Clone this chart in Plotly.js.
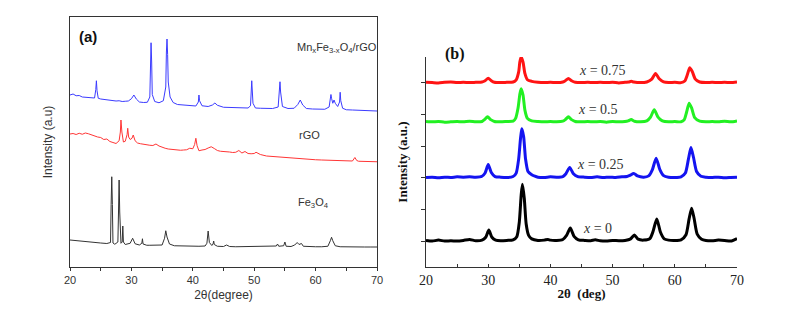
<!DOCTYPE html>
<html>
<head>
<meta charset="utf-8">
<script src="https://cdn.plot.ly/plotly-3.0.1.min.js"></script>
<style>
  html, body { margin: 0; padding: 0; background: #fff; }
  #chart { width: 789px; height: 327px; }
</style>
</head>
<body>
<div id="chart"></div>
<script>
// ---- panel (a): XRD patterns, arbitrary intensity scale 0..100 ----
const xMn = [20,20.5,21,21.5,22,22.5,23,23.5,24.0,24.2,24.3,24.4,24.6,25,25.5,26,26.5,27,27.5,28,28.5,29,29.5,30.0,30.4,30.8,31.3,32,32.6,33.0,33.1,33.2,33.3,33.4,33.8,34.5,35.2,35.6,35.7,35.8,35.9,36.0,36.3,36.8,37.5,38.5,39.5,40.5,40.9,41.0,41.1,41.5,42.5,43.2,43.6,44.0,45,46,47,48,49,49.4,49.6,49.8,50.2,51,52,53,53.9,54.1,54.2,54.3,54.6,55.5,56.5,57.1,57.5,57.9,58.5,59.5,60.5,61.5,62.2,62.4,62.5,62.6,62.8,63.0,63.2,63.6,63.9,64.0,64.1,64.4,65,66,67,68,69,70];
const yMn = [68.8,69.2,68.5,68.6,68.0,67.9,67.6,67.5,67.6,71,74.5,70.5,67.5,67.2,67.0,66.9,66.6,66.7,66.4,66.5,66.2,66.3,66.4,67.3,68.8,67.2,66.0,65.8,65.9,68,80,89.7,82,69,66.2,65.7,66.5,72,86,91.2,85,74,68,65.8,65.0,64.8,64.5,64.4,66,68.8,66.5,64.5,64.2,64.8,65.6,64.7,63.9,63.9,63.7,63.6,63.6,64.5,74.5,65.5,63.6,63.5,63.4,63.4,64,70,74.1,70,64.2,63.4,63.5,65,66.8,64.8,63.4,63.2,63.1,63.1,64,67,69,67.5,65.5,66.8,65.5,64.2,66,69.9,66.5,63.5,62.9,62.8,62.7,62.6,62.5,62.4];

const xRgo = [20,20.5,21,21.5,22,22.5,23,23.5,24,24.5,25,25.5,26,26.5,27,27.5,28,28.2,28.3,28.45,28.7,29.0,29.3,29.4,29.55,29.8,30.1,30.3,30.6,31,31.5,32,32.5,33,33.5,34,34.5,35,35.5,36,36.5,37,37.5,38,38.5,39,39.5,40,40.3,40.5,40.7,41,41.5,42,42.5,43,43.5,44,44.5,45,45.5,46,46.5,47,47.5,48,48.5,49,49.5,50,50.3,51,52,53,54,55,56,57,58,59,60,61,62,63,64,65,66,66.4,66.7,67,68,69,70];
const yRgo = [53.2,53.4,53.0,53.5,53.1,53.6,53.3,52.8,52.6,52.0,51.8,51.0,51.2,50.2,49.8,49.4,50.5,54,58.8,54,50,50.3,53,55.5,52,51,51.5,52.8,50.5,49.6,49.3,49.0,48.9,48.7,48.6,49.2,48.4,47.8,47.5,47.2,47.0,46.9,46.8,46.7,46.8,46.9,47.5,47.3,49,51.5,48.5,46.5,46.8,47.0,47.6,48.1,47.4,46.6,46.3,46.2,46.4,46.0,45.8,45.9,46.6,45.6,46.2,45.4,45.3,45.4,45.9,45.0,44.4,44.2,43.9,43.6,43.5,43.2,43.3,43.0,42.9,42.8,42.7,42.6,42.5,42.4,42.4,43.8,42.6,42.3,42.3,42.2,42.1];

const xFe = [20,21,22,23,24,25,26,26.6,26.7,26.8,26.9,27.0,27.3,27.8,27.9,28.0,28.1,28.3,28.5,28.6,28.7,29,29.8,30.2,30.6,31.3,31.7,31.8,31.9,32.5,33,34,35,35.4,35.6,35.8,36.2,37,38,39,40,41,42,42.3,42.5,42.7,43.1,43.3,43.4,43.5,44,45,45.5,46,47,48,49,50,51,52,53,53.6,53.8,54.0,54.8,55.0,55.2,56,56.6,57.0,57.3,57.7,58.0,59,60,61,62,62.4,62.6,62.8,63.2,64,65,66,67,68,69,70];
const yFe = [10.8,10.5,10.2,10.0,9.8,9.6,9.4,9.8,25,36.1,25,9.6,9.1,10,22,34.8,22,9.5,10,16.4,10,9.0,9.5,11.5,9.3,8.8,9.5,11.3,9.2,8.7,8.7,8.6,8.8,11.5,14.5,12,9.2,8.5,8.4,8.4,8.3,8.3,8.4,9.5,14.4,9.8,8.6,9.2,10.4,9,8.3,8.2,8.8,8.2,8.1,8.1,8.1,8.1,8.1,8.1,8.1,8.4,9.2,8.3,8.5,10,8.3,8.2,8.8,9.8,9.0,9.4,8.3,8.1,8.1,8.1,8.3,10.5,11.9,10.5,8.5,8.1,8.0,8.0,8.0,8.0,8.0,8.0];

// ---- panel (b): MnxFe3-xO4 series, intensity above each baseline ----
const bLabels = ['x = 0', 'x = 0.25', 'x = 0.5', 'x = 0.75'];
const bOffsets = [0, 2, 3.76, 5];

const xK = [20,21,22,23,24,25,26,27,28,29, 29.6,30.1,30.6,31.2,32,33,34, 34.6,35.0,35.3,35.5,35.8,36.1,36.5,37,38,39, 39.6,40,41,42,42.6,43.2,43.8,44.5,45.5,46.5, 47.2,48,49,50,51,52,52.9,53.5,54.1,55, 56,56.5,57.1,57.7,58.3,59,60,61,61.8,62.3, 62.7,63.1,63.6,64.3,65,66,67,68,69,70];
const yK = [0.02,0.0,0.03,0.0,0.01,0.0,0.02,0.05,0.01,0.03, 0.12,0.35,0.12,0.03,0.01,0.02,0.04, 0.14,0.6,1.45,1.8,1.35,0.55,0.18,0.07,0.02,0.03, 0.05,0.03,0.02,0.05,0.18,0.41,0.15,0.04,0.02,0.01, 0.04,0.01,0.0,0.02,0.01,0.02,0.07,0.19,0.06,0.03, 0.08,0.3,0.7,0.28,0.07,0.03,0.02,0.04,0.2,0.7, 1.04,0.72,0.22,0.06,0.02,0.01,0.03,0.02,0.0,0.08];

const xU = [20,21,22,23,24,25,26,27,28,29, 29.5,30.0,30.5,31.1,32,33,34, 34.5,34.9,35.2,35.4,35.7,36.0,36.4,37,37.5,38, 39,40,41,42,42.5,43.1,43.7,44.4,45.5,46.5, 47.5,48.5,49.5,50.5,51.5,52.3,52.8,53.4,54.0,55, 55.8,56.4,57.0,57.6,58.2,59,60,61,61.7,62.2, 62.6,63.0,63.5,64.2,65,66,67,68,69,70];
const yU = [0.01,0.02,0.0,0.02,0.01,0.03,0.02,0.03,0.02,0.05, 0.15,0.42,0.17,0.04,0.02,0.01,0.04, 0.15,0.6,1.25,1.55,1.3,0.6,0.2,0.1,0.05,0.02, 0.01,0.03,0.02,0.04,0.13,0.33,0.13,0.04,0.02,0.01, 0.03,0.01,0.02,0.01,0.03,0.04,0.08,0.14,0.06,0.02, 0.06,0.26,0.62,0.26,0.07,0.02,0.01,0.03,0.15,0.6, 0.96,0.65,0.2,0.05,0.02,0.01,0.02,0.0,0.01,0.02];

const xG = [20,21,22,23,24,25,26,27,28,29, 29.4,29.9,30.4,31,32,33,34, 34.4,34.8,35.1,35.3,35.6,35.9,36.3,37,38,39, 40,41,42,42.4,42.9,43.4,44,45,46,47, 48,49,50,51,52,52.5,53.0,53.5,54.5,55.5, 56.1,56.7,57.3,58,59,60,61,61.5,61.9,62.3, 62.7,63.2,64,65,66,67,68,69,70];
const yG = [0.02,0.01,0.02,0.0,0.01,0.02,0.01,0.03,0.01,0.02, 0.08,0.17,0.08,0.02,0.01,0.02,0.03, 0.12,0.45,0.9,1.06,0.86,0.38,0.12,0.04,0.02,0.01, 0.02,0.01,0.03,0.08,0.17,0.08,0.02,0.01,0.02,0.01, 0.02,0.0,0.02,0.01,0.02,0.04,0.08,0.03,0.01,0.04, 0.16,0.39,0.16,0.04,0.01,0.02,0.01,0.07,0.32,0.6, 0.45,0.14,0.03,0.01,0.02,0.01,0.03,0.01,0.04];

const xR = [20,21,22,23,24,25,26,27,28,29, 29.5,30.0,30.5,31,32,33,34, 34.5,34.9,35.1,35.3,35.6,35.9,36.3,37,38,39, 40,41,42,42.4,42.9,43.4,44,45,46,47, 48,49,50,51,52,52.6,53.0,53.4,54.5,55.5, 56.3,56.9,57.5,58.2,59,60,61,61.6,62.0,62.4, 62.8,63.3,64,65,66,67,68,69,70];
const yR = [0.02,0.01,0.0,0.02,0.03,0.01,0.02,0.01,0.02,0.03, 0.07,0.15,0.07,0.02,0.01,0.02,0.03, 0.1,0.35,0.68,0.82,0.66,0.3,0.1,0.05,0.02,0.01, 0.02,0.01,0.03,0.07,0.14,0.07,0.02,0.01,0.02,0.01, 0.02,0.01,0.02,0.0,0.02,0.03,0.05,0.03,0.01,0.03, 0.12,0.3,0.13,0.03,0.01,0.02,0.01,0.06,0.25,0.48, 0.36,0.12,0.03,0.01,0.02,0.01,0.02,0.01,0.03];

const bSeries = [[xK, yK], [xU, yU], [xG, yG], [xR, yR]];
const bColors = ['#000000', '#1414f0', '#22f022', '#ff1414'];
const bLabelPos = [[47.5, 0.41], [48.1, 2.41], [47.65, 4.15], [48.3, 5.38]];

const sans = 'Liberation Sans, Arial, sans-serif';
const serif = 'Liberation Serif, Times New Roman, serif';

const traces = [
    { x: xMn, y: yMn, type: 'scatter', mode: 'lines', line: { color: '#3b3bff', width: 1 }, xaxis: 'x', yaxis: 'y' },
    { x: xRgo, y: yRgo, type: 'scatter', mode: 'lines', line: { color: '#ff3535', width: 1 }, xaxis: 'x', yaxis: 'y' },
    { x: xFe, y: yFe, type: 'scatter', mode: 'lines', line: { color: '#333333', width: 1 }, xaxis: 'x', yaxis: 'y' }
];

bSeries.forEach((s, i) => {
    traces.push({
        x: s[0],
        y: s[1].map(v => v + bOffsets[i]),
        type: 'scatter',
        mode: 'lines',
        line: { color: bColors[i], width: 3, shape: 'spline', smoothing: 0.6 },
        xaxis: 'x2',
        yaxis: 'y2'
    });
});

const annotations = [
    { xref: 'x', yref: 'y', x: 21.1, y: 92.4, xanchor: 'left', text: '<b>(a)</b>', showarrow: false, font: { family: sans, size: 15, color: '#111' } },
    { xref: 'x', yref: 'y', x: 56.6, y: 87.6, xanchor: 'left', text: 'Mn<sub>x</sub>Fe<sub>3-x</sub>O<sub>4</sub>/rGO', showarrow: false, font: { family: sans, size: 11, color: '#333' } },
    { xref: 'x', yref: 'y', x: 57.0, y: 52.8, xanchor: 'left', text: 'rGO', showarrow: false, font: { family: sans, size: 11, color: '#333' } },
    { xref: 'x', yref: 'y', x: 56.8, y: 25.6, xanchor: 'left', text: 'Fe<sub>3</sub>O<sub>4</sub>', showarrow: false, font: { family: sans, size: 11, color: '#333' } },
    { xref: 'paper', yref: 'paper', x: 455 / 789, y: 1 - 43 / 327, text: '<b>(b)</b>', showarrow: false, font: { family: serif, size: 16, color: '#111' } }
];

bLabels.forEach((t, i) => {
    annotations.push({
        xref: 'x2', yref: 'y2', x: bLabelPos[i][0], y: bLabelPos[i][1],
        text: '<i>x</i>' + t.slice(1), showarrow: false,
        font: { family: serif, size: 14, color: '#333' }
    });
});

const layout = {
    width: 789,
    height: 327,
    margin: { l: 0, r: 0, t: 0, b: 0 },
    paper_bgcolor: '#fff',
    plot_bgcolor: '#fff',
    showlegend: false,
    xaxis: {
        domain: [70 / 789, 377 / 789],
        range: [20, 70],
        dtick: 10,
        showline: true, mirror: true, linecolor: '#333', linewidth: 1,
        showgrid: false, zeroline: false,
        ticks: 'outside', ticklen: 3, tickcolor: '#333',
        minor: { dtick: 5, ticks: 'outside', ticklen: 3, tickcolor: '#333' },
        tickfont: { family: sans, size: 11, color: '#333' },
        title: { text: '2θ(degree)', font: { family: sans, size: 12, color: '#333' }, standoff: 5 }
    },
    yaxis: {
        domain: [60 / 327, 310 / 327],
        range: [0, 100],
        showline: true, mirror: true, linecolor: '#333', linewidth: 1,
        showgrid: false, zeroline: false,
        ticks: '', showticklabels: false,
        title: { text: 'Intensity (a.u)', font: { family: sans, size: 12, color: '#333' }, standoff: 13 }
    },
    xaxis2: {
        domain: [426 / 789, 737 / 789],
        range: [20, 70],
        dtick: 10,
        anchor: 'y2',
        showline: true, linecolor: '#333', linewidth: 1,
        showgrid: false, zeroline: false,
        ticks: 'inside', ticklen: 3, tickcolor: '#333',
        minor: { dtick: 5, ticks: 'inside', ticklen: 3, tickcolor: '#333' },
        tickfont: { family: serif, size: 14, color: '#222' },
        title: { text: '<b>2θ  (deg)</b>', font: { family: serif, size: 13, color: '#111' }, standoff: 2 }
    },
    yaxis2: {
        domain: [60 / 327, 270 / 327],
        range: [-0.82, 5.82],
        anchor: 'x2',
        tickvals: [0, 1, 2, 3, 4, 5],
        showline: true, linecolor: '#333', linewidth: 1,
        showgrid: false, zeroline: false,
        ticks: 'outside', ticklen: 4, tickcolor: '#333',
        showticklabels: false,
        title: { text: '<b>Intensity (a.u.)</b>', font: { family: serif, size: 13, color: '#111' }, standoff: 10 }
    },
    annotations: annotations
};

Plotly.newPlot('chart', traces, layout, { staticPlot: true });
</script>
</body>
</html>
